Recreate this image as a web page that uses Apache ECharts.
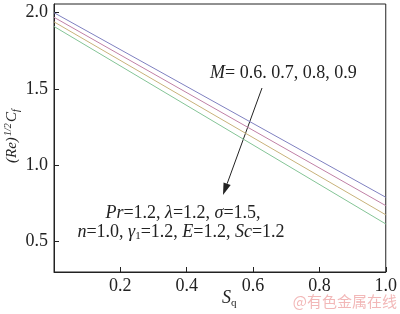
<!DOCTYPE html>
<html><head><meta charset="utf-8">
<script src="https://cdn.jsdelivr.net/npm/echarts@6/dist/echarts.min.js"></script>
<style>html,body{margin:0;padding:0;background:#fff}#c{width:400px;height:314px}</style>
</head><body><div id="c"></div>
<script>
var xValues = [0, 1.0];
var seriesNames = ['M=0.6', 'M=0.7', 'M=0.8', 'M=0.9'];
var seriesValues = [
  [2.00, 0.79],
  [1.97, 0.735],
  [1.94, 0.675],
  [1.91, 0.615]
];
var seriesColors = ['#7f80c0', '#c080a6', '#c8b27a', '#84c496'];
var xTicks = [0.2, 0.4, 0.6, 0.8, 1.0];
var yTicks = [0.5, 1.0, 1.5, 2.0];

var FONT = 'Liberation Serif, Times New Roman, Times, serif';
var FS = 18;
var chart = echarts.init(document.getElementById('c'), null, {renderer: 'canvas'});

var series = seriesValues.map(function (vals, i) {
  return {
    name: seriesNames[i], type: 'line', symbol: 'none', silent: true,
    lineStyle: {color: seriesColors[i], width: 1},
    data: xValues.map(function (x, j) { return [x, vals[j]]; })
  };
});

var tipX = 223, tipY = 195, tailX = 262, tailY = 88;
var dx = tipX - tailX, dy = tipY - tailY, L = Math.sqrt(dx*dx + dy*dy);
var ux = dx / L, uy = dy / L, hl = 12, hw = 3.8;
var bx = tipX - ux*hl, by = tipY - uy*hl;

chart.setOption({
  animation: false,
  grid: {left: 54, right: 12, top: 4, bottom: 42, show: true, borderColor: '#222', borderWidth: 1},
  xAxis: {
    type: 'value', min: 0, max: 1.0,
    axisLine: {lineStyle: {color: '#222'}},
    splitLine: {show: false},
    axisTick: {inside: true, length: 5, lineStyle: {color: '#222'}, customValues: xTicks},
    axisLabel: {customValues: xTicks, color: '#222', fontFamily: FONT, fontSize: FS, margin: 5,
      formatter: function (v) { return v.toFixed(1); }}
  },
  yAxis: {
    type: 'value', min: 0.3, max: 2.057,
    axisLine: {show: true, lineStyle: {color: '#222'}},
    splitLine: {show: false},
    axisTick: {show: true, inside: true, length: 5, lineStyle: {color: '#222'}, customValues: yTicks},
    axisLabel: {customValues: yTicks, color: '#222', fontFamily: FONT, fontSize: FS, margin: 6,
      formatter: function (v) { return v.toFixed(1); }}
  },
  series: series,
  graphic: [
    {type: 'text', x: 12, y: 163, rotation: Math.PI/2, style: {text: '(Re)', font: 'italic 15px ' + FONT, fill: '#222', align: 'left', verticalAlign: 'middle'}},
    {type: 'text', x: 8, y: 136, rotation: Math.PI/2, style: {text: '1/2', font: 'italic 10px ' + FONT, fill: '#222', align: 'left', verticalAlign: 'middle'}},
    {type: 'text', x: 12, y: 122, rotation: Math.PI/2, style: {text: 'C', font: 'italic 15px ' + FONT, fill: '#222', align: 'left', verticalAlign: 'middle'}},
    {type: 'text', x: 16, y: 112, rotation: Math.PI/2, style: {text: 'f', font: 'italic 10px ' + FONT, fill: '#222', align: 'left', verticalAlign: 'middle'}},
    {type: 'text', x: 222, y: 298, style: {text: 'S', font: 'italic 18px ' + FONT, fill: '#222', align: 'left', verticalAlign: 'middle'}},
    {type: 'text', x: 231, y: 303, style: {text: 'q', font: '11px ' + FONT, fill: '#222', align: 'left', verticalAlign: 'middle'}},
    {type: 'text', x: 210, y: 73, style: {
      text: '{i|M}= 0.6. 0.7, 0.8, 0.9', font: FS + 'px ' + FONT, fill: '#222', align: 'left', verticalAlign: 'middle',
      rich: {i: {fontStyle: 'italic', fontFamily: FONT, fontSize: FS, fill: '#222'}}}},
    {type: 'line', shape: {x1: tailX, y1: tailY, x2: bx, y2: by}, style: {stroke: '#222', lineWidth: 1}},
    {type: 'polygon', shape: {points: [[tipX, tipY], [bx + uy*hw, by - ux*hw], [bx - uy*hw, by + ux*hw]]}, style: {fill: '#222'}},
    {type: 'text', x: 183, y: 213, style: {
      text: '{i|Pr}=1.2, {i|λ}=1.2, {i|σ}=1.5,', font: FS + 'px ' + FONT, fill: '#222', align: 'center', verticalAlign: 'middle',
      rich: {i: {fontStyle: 'italic', fontFamily: FONT, fontSize: FS, fill: '#222'}}}},
    {type: 'text', x: 181, y: 232, style: {
      text: '{i|n}=1.0, {i|γ}{s|1}=1.2, {i|E}=1.2, {i|Sc}=1.2', font: FS + 'px ' + FONT, fill: '#222', align: 'center', verticalAlign: 'middle',
      rich: {i: {fontStyle: 'italic', fontFamily: FONT, fontSize: FS, fill: '#222'},
             s: {fontFamily: FONT, fontSize: 11, fill: '#222', padding: [8, 0, 0, 0]}}}},
    {type: 'text', x: 397, y: 301, style: {text: '@有色金属在线', font: '15px "Noto Sans CJK SC", sans-serif', fill: '#f2b8b8', align: 'right', verticalAlign: 'middle'}}
  ]
});
</script></body></html>
